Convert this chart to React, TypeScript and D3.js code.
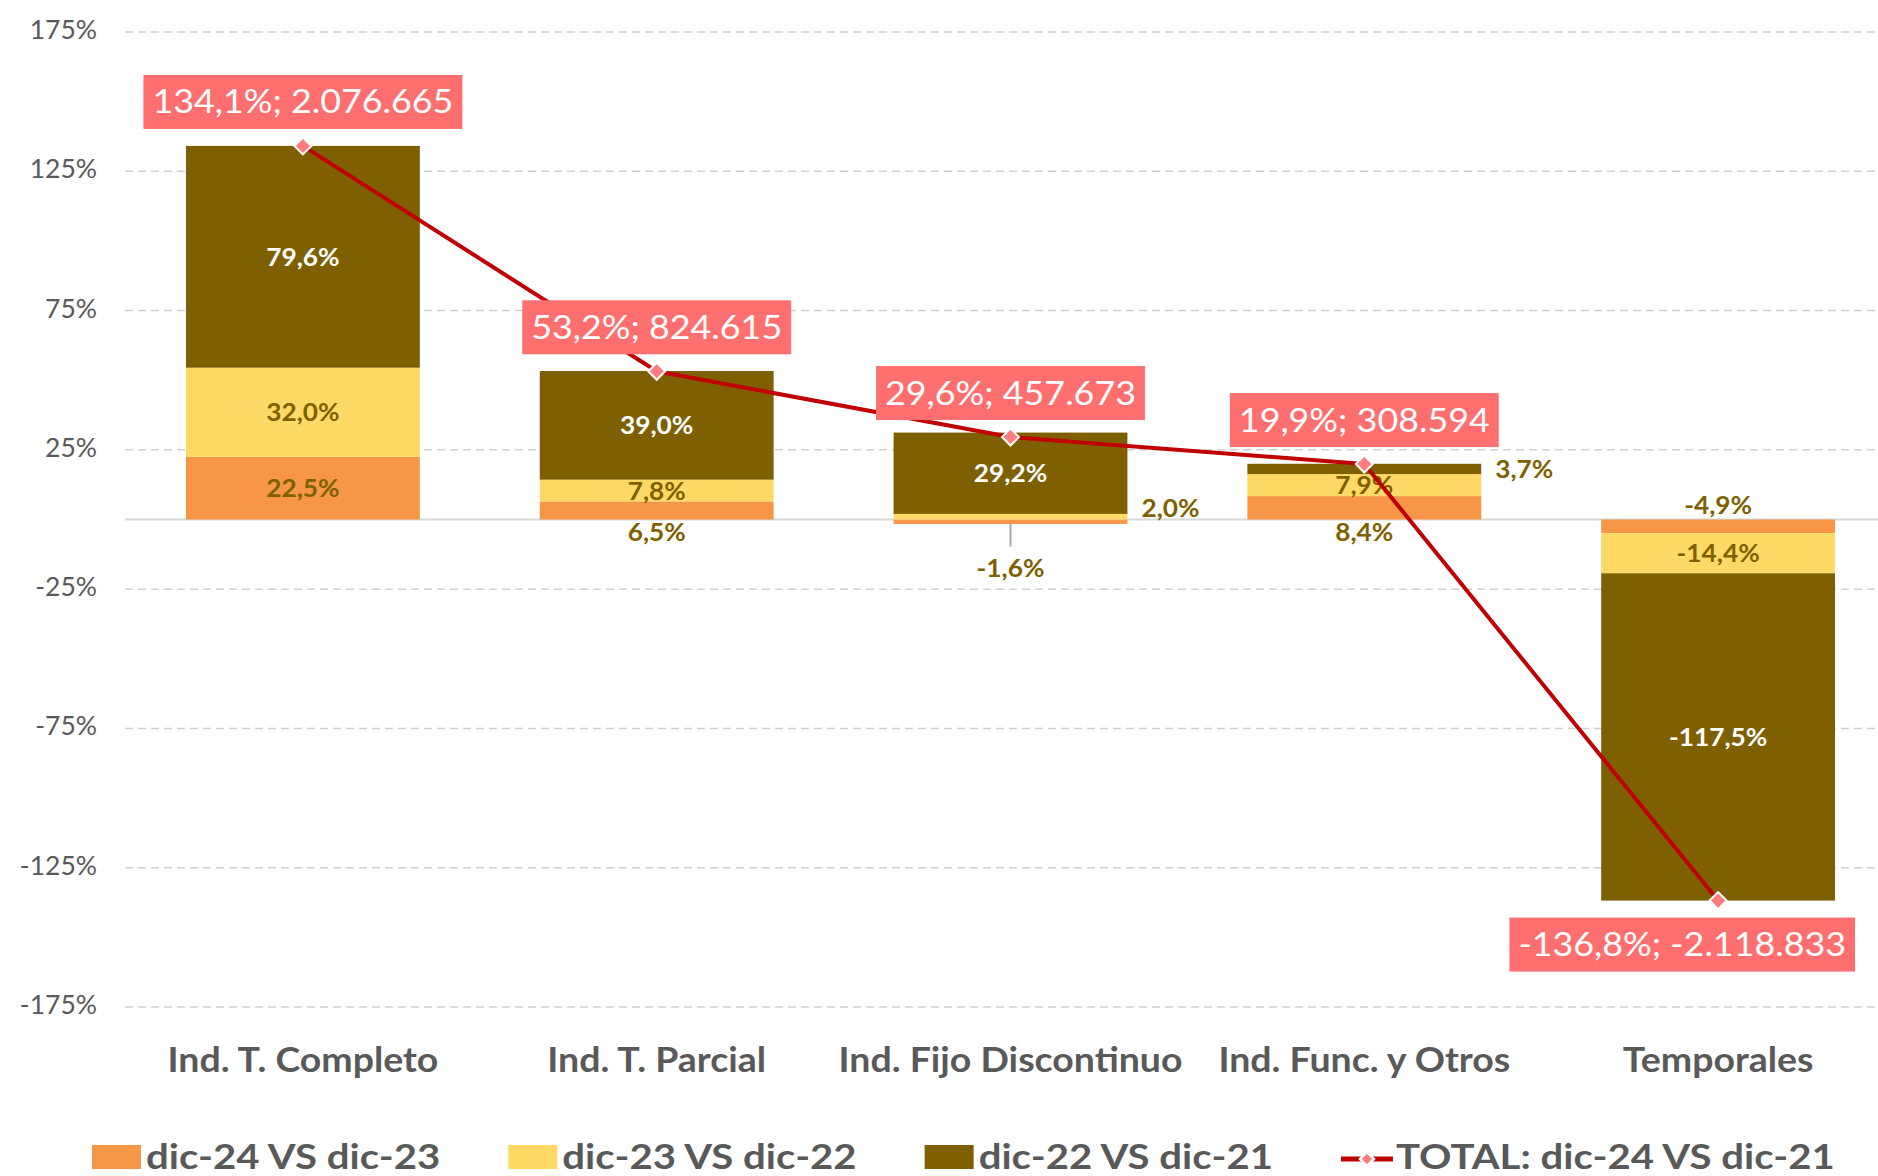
import React, { useEffect, useRef } from 'react';
import * as d3 from 'd3';

const categories = ['Ind. T. Completo', 'Ind. T. Parcial', 'Ind. Fijo Discontinuo', 'Ind. Func. y Otros', 'Temporales'];
const seriesNames = ['dic-24 VS dic-23', 'dic-23 VS dic-22', 'dic-22 VS dic-21'];
const dic24vs23 = [22.5, 6.5, -1.6, 8.4, -4.9];
const dic23vs22 = [32.0, 7.8, 2.0, 7.9, -14.4];
const dic22vs21 = [79.6, 39.0, 29.2, 3.7, -117.5];
const totalName = 'TOTAL: dic-24 VS dic-21';
const totalPct = [134.1, 53.2, 29.6, 19.9, -136.8];
const totalAbs = [2076665, 824615, 457673, 308594, -2118833];
const yTicks = [175, 125, 75, 25, -25, -75, -125, -175];
// where each segment label sits (Excel manual label placement)
const place24 = ['center', 'below', 'leader', 'below', 'above'];
const place23 = ['center', 'center', 'right', 'center', 'center'];
const place22 = ['center', 'center', 'center', 'right', 'center'];

const colors = ['#F79646', '#FFD966', '#7F6000'];
const labelDark = '#7F6000';
const grey = '#595959';
const FONT = 'Lato, "Noto Sans", sans-serif';

export default function App() {
  const ref = useRef<SVGSVGElement>(null);
  useEffect(() => {
    const W = 1878, H = 1176;
    const svg = d3.select(ref.current);
    svg.selectAll('*').remove();
    svg.append('rect').attr('width', W).attr('height', H).attr('fill', '#fff');

    const loc = d3.formatLocale({ decimal: ',', thousands: '.', grouping: [3], currency: ['', '€'], minus: '-' } as any);
    const fPct = loc.format(',.1f');
    const fInt = loc.format(',d');

    const x = d3.scaleBand<string>().domain(categories).range([126, 1895]).paddingInner(0.339).paddingOuter(0.1695);
    const y = d3.scaleLinear().domain([-175, 175]).range([1007, 32]);
    const bw = x.bandwidth();
    const cx = (c: string) => (x(c) as number) + bw / 2;

    const txt = (parent: any, o: any) => {
      const sx = o.sx ?? 1;
      const g = parent.append('g').attr('transform', `translate(${o.x},${o.y}) scale(${sx},1)`);
      const t = g.append('text')
        .attr('text-anchor', o.anchor ?? 'middle')
        .attr('font-family', FONT)
        .attr('font-size', o.size)
        .attr('font-weight', o.weight ?? 400)
        .attr('fill', o.fill)
        .attr('y', o.size * 0.36)
        .text(o.text);
      return { g, t, sx };
    };

    // gridlines
    const grid = svg.append('g');
    yTicks.forEach((t) => {
      grid.append('line').attr('x1', 125).attr('x2', W).attr('y1', y(t)).attr('y2', y(t))
        .attr('stroke', '#D0D0D0').attr('stroke-width', 1.5).attr('stroke-dasharray', '8,5');
      txt(svg, { x: 97, y: y(t) - 2.5, text: `${t}%`, size: 26.5, fill: grey, anchor: 'end' });
    });
    // zero axis
    svg.append('line').attr('x1', 125).attr('x2', W).attr('y1', y(0)).attr('y2', y(0))
      .attr('stroke', '#D9D9D9').attr('stroke-width', 2);

    const rows = categories.map((c, i) => ({ cat: c, s0: dic24vs23[i], s1: dic23vs22[i], s2: dic22vs21[i] }));
    const keys = ['s0', 's1', 's2'];
    const stack = d3.stack<any>().keys(keys).offset(d3.stackOffsetDiverging);
    const layers = stack(rows);
    const places = [place24, place23, place22];
    const vals = [dic24vs23, dic23vs22, dic22vs21];

    const barsG = svg.append('g');
    layers.forEach((layer, li) => {
      layer.forEach((d: any, i: number) => {
        const c = categories[i];
        barsG.append('rect').attr('x', x(c) as number).attr('width', bw)
          .attr('y', y(d[1])).attr('height', Math.max(0, y(d[0]) - y(d[1])))
          .attr('fill', colors[li]);
      });
    });

    const labG = svg.append('g');
    layers.forEach((layer, li) => {
      layer.forEach((d: any, i: number) => {
        const c = categories[i];
        const p = places[li][i];
        const v = vals[li][i];
        const text = `${fPct(v)}%`;
        let lx = cx(c), ly = (y(d[0]) + y(d[1])) / 2, anchor = 'middle';
        let fill = li === 2 ? '#FFFFFF' : labelDark;
        if (p === 'below') { ly = y(0) + 12; fill = labelDark; }
        if (p === 'above') { ly = y(0) - 15; fill = labelDark; }
        if (p === 'right') {
          lx = (x(c) as number) + bw + 14; anchor = 'start'; fill = labelDark;
          ly = Math.min(ly, y(0) - 12);
        }
        if (p === 'leader') {
          ly = y(0) + 48; fill = labelDark;
          labG.append('line').attr('x1', lx).attr('x2', lx).attr('y1', y(d[0])).attr('y2', y(0) + 27)
            .attr('stroke', '#A6A6A6').attr('stroke-width', 2);
        }
        txt(labG, { x: lx, y: ly, text, size: 25, sx: 1.05, weight: 700, fill, anchor });
      });
    });

    // total line
    const line = d3.line<number>().x((_, i) => cx(categories[i])).y((v) => y(v));
    svg.append('path').attr('d', line(totalPct) as string).attr('fill', 'none')
      .attr('stroke', '#C00000').attr('stroke-width', 4).attr('stroke-linejoin', 'round');
    const diamond = (r: number) => `M0,${-r}L${r},0L0,${r}L${-r},0Z`;
    totalPct.forEach((v, i) => {
      svg.append('path').attr('d', diamond(8.5)).attr('transform', `translate(${cx(categories[i])},${y(v)})`)
        .attr('fill', '#FF7C80').attr('stroke', '#fff').attr('stroke-width', 2);
    });

    // total labels
    totalPct.forEach((v, i) => {
      const g = svg.append('g');
      const rect = g.append('rect');
      const cy = v >= 0 ? y(v) - 44 : y(v) + 44;
      const { g: tg, t, sx } = txt(g, { x: 0, y: 0, text: `${fPct(v)}%; ${fInt(totalAbs[i])}`, size: 32, sx: 1.12, fill: '#FFFFFF' });
      const tw = (t.node() as SVGTextElement).getComputedTextLength() * sx;
      const w = tw + 18, h = 54;
      let bx = cx(categories[i]) - w / 2;
      bx = Math.min(bx, W - 23 - w);
      rect.attr('x', bx).attr('y', cy - h / 2).attr('width', w).attr('height', h).attr('fill', '#FF6F6F');
      tg.attr('transform', `translate(${bx + w / 2},${cy}) scale(${sx},1)`);
    });

    // category labels
    categories.forEach((c) => {
      txt(svg, { x: cx(c), y: 1059, text: c, size: 35, sx: 1.07, weight: 700, fill: grey });
    });

    // legend
    const lg = svg.append('g');
    let lx = 92;
    const ly = 1157;
    seriesNames.forEach((n, i) => {
      lg.append('rect').attr('x', lx).attr('y', 1145).attr('width', 49).attr('height', 24).attr('fill', colors[i]);
      const { t, sx } = txt(lg, { x: lx + 54, y: ly, text: n, size: 34, sx: 1.18, weight: 700, fill: grey, anchor: 'start' });
      const tw = (t.node() as SVGTextElement).getComputedTextLength() * sx;
      lx = lx + 54 + tw + 68;
    });
    lg.append('line').attr('x1', lx).attr('x2', lx + 52).attr('y1', 1159).attr('y2', 1159)
      .attr('stroke', '#C00000').attr('stroke-width', 5);
    lg.append('path').attr('d', diamond(7)).attr('transform', `translate(${lx + 26},1159)`)
      .attr('fill', '#FF7C80').attr('stroke', '#fff').attr('stroke-width', 2.5);
    txt(lg, { x: lx + 55, y: ly, text: totalName, size: 34, sx: 1.18, weight: 700, fill: grey, anchor: 'start' });
  }, []);
  return <svg ref={ref} width={1878} height={1176} style={{ position: 'absolute', left: 0, top: 0 }} />;
}
